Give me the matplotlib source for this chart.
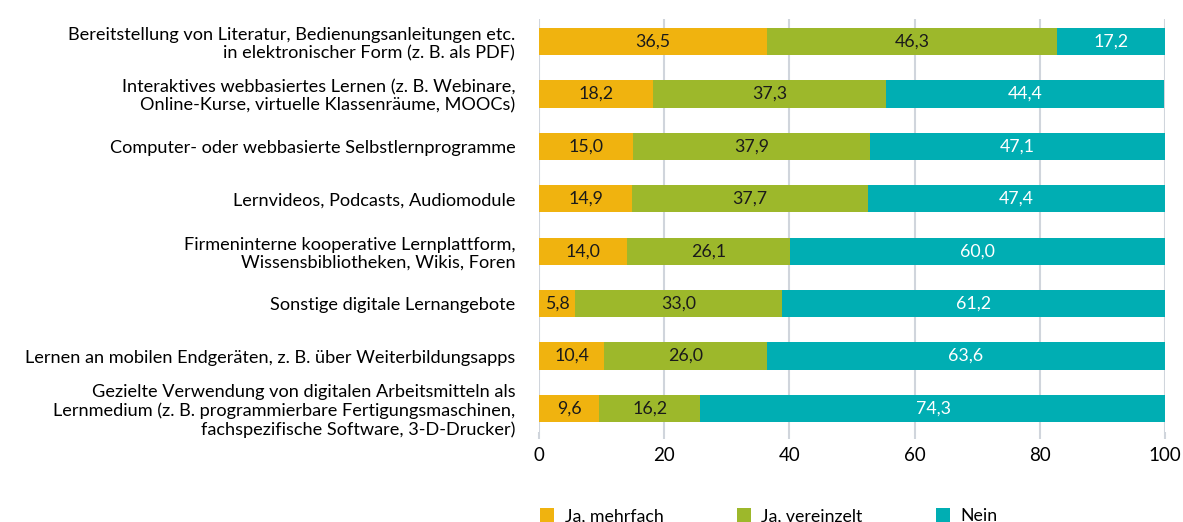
import matplotlib.pyplot as plt
import numpy as np

# Data (percent)
categories = [
    'Bereitstellung von Literatur, Bedienungsanleitungen etc.\nin elektronischer Form (z. B. als PDF)',
    'Interaktives webbasiertes Lernen (z. B. Webinare,\nOnline-Kurse, virtuelle Klassenräume, MOOCs)',
    'Computer- oder webbasierte Selbstlernprogramme',
    'Lernvideos, Podcasts, Audiomodule',
    'Firmeninterne kooperative Lernplattform,\nWissensbibliotheken, Wikis, Foren',
    'Sonstige digitale Lernangebote',
    'Lernen an mobilen Endgeräten, z. B. über Weiterbildungsapps',
    'Gezielte Verwendung von digitalen Arbeitsmitteln als\nLernmedium (z. B. programmierbare Fertigungsmaschinen,\nfachspezifische Software, 3-D-Drucker)',
]
ja_mehrfach = [36.5, 18.2, 15.0, 14.9, 14.0, 5.8, 10.4, 9.6]
ja_vereinzelt = [46.3, 37.3, 37.9, 37.7, 26.1, 33.0, 26.0, 16.2]
nein = [17.2, 44.4, 47.1, 47.4, 60.0, 61.2, 63.6, 74.3]

series_names = ['Ja, mehrfach', 'Ja, vereinzelt', 'Nein']
colors = ['#f0b30f', '#9db82b', '#00aeb3']
text_colors = ['#1a1a1a', '#1a1a1a', 'white']

plt.rcParams['font.family'] = ['Lato', 'DejaVu Sans']

fig = plt.figure(figsize=(11.83, 5.22), dpi=100)
ax = fig.add_axes([0.4556, 0.1724, 0.5292, 0.7912])

y = np.arange(len(categories))
left = np.zeros(len(categories))
for name, vals, col, tcol in zip(series_names, [ja_mehrfach, ja_vereinzelt, nein], colors, text_colors):
    vals = np.array(vals)
    ax.barh(y, vals, left=left, height=0.52, color=col, label=name, zorder=3)
    for yi, l, v in zip(y, left, vals):
        ax.text(l + v / 2, yi, f'{v:.1f}'.replace('.', ','), ha='center', va='center',
                color=tcol, fontsize=12.8, zorder=4)
    left += vals

ax.set_xlim(0, 100)
ax.set_ylim(len(categories) - 0.55, -0.43)
ax.set_xticks([0, 20, 40, 60, 80, 100])
ax.set_yticks(y)
ax.set_yticklabels(categories, fontsize=13.1, linespacing=1.15)
ax.tick_params(axis='y', length=0, pad=17)
ax.tick_params(axis='x', length=5, color='#d0d5dc', width=1.5, labelsize=13.5, pad=6)
ax.grid(axis='x', color='#d0d5dc', linewidth=1.5, zorder=0)
for s in ax.spines.values():
    s.set_visible(False)

fig.legend(loc='lower left', bbox_to_anchor=(0.443, -0.035), ncol=3, frameon=False,
           fontsize=12.8, handlelength=0.8, handleheight=0.9, handletextpad=0.6,
           columnspacing=4.1)

plt.savefig('out.png', dpi=100)
